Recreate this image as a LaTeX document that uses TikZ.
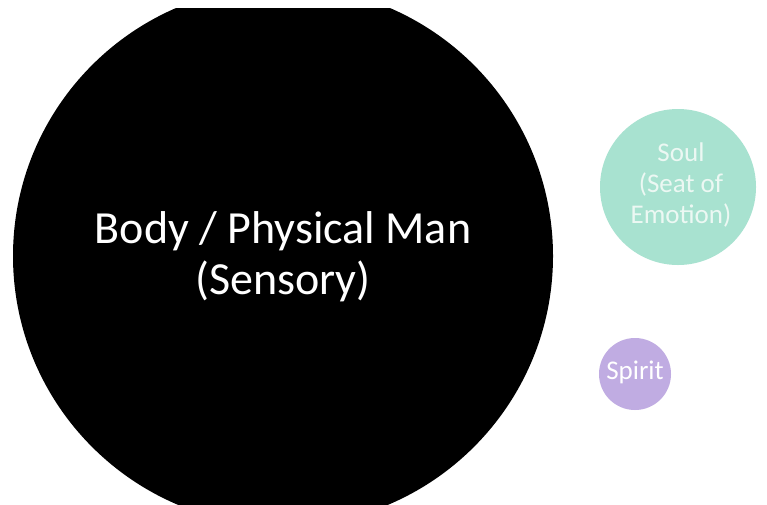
\documentclass[tikz,border=0pt]{standalone}
\usepackage{fontspec}
\setmainfont{Carlito}
\definecolor{soulc}{RGB}{168,226,208}
\definecolor{spiritc}{RGB}{192,172,226}
\definecolor{soultext}{RGB}{236,248,243}
\begin{document}
\begin{tikzpicture}[x=1pt,y=-1pt,
  lbl/.style={align=center,text=white,inner sep=0pt}]
\useasboundingbox[fill=white] (0,0) rectangle (767,504);
\begin{scope}
\clip (0,8) rectangle (767,504);
\fill[black] (283,256) circle[radius=270];
\end{scope}
\node[lbl,font=\fontsize{46}{51}\selectfont] (body) at (283,257) {Body / Physical Man\\(Sensory)};
\fill[soulc] (678,187) circle[radius=78];
\node[lbl,text=soultext,font=\fontsize{27}{31}\selectfont] (soul) at (681,185) {Soul\\(Seat of\\Emotion)};
\fill[spiritc] (635,374) circle[radius=36];
\node[lbl,font=\fontsize{27}{30}\selectfont] (spirit) at (635,372) {Spirit};
\end{tikzpicture}
\end{document}
